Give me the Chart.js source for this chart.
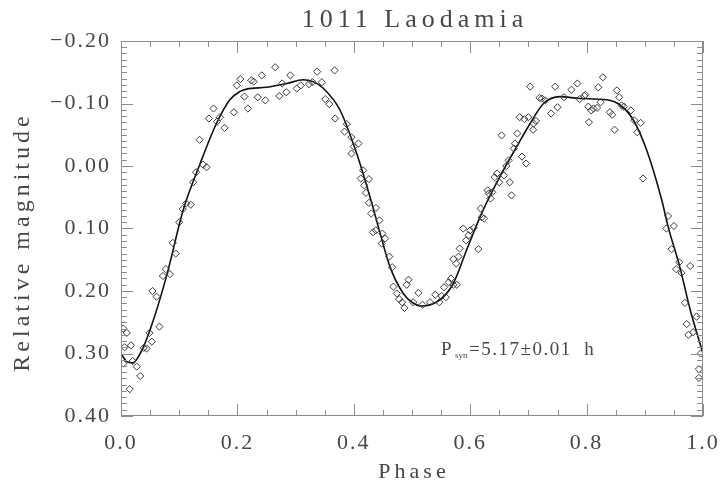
<!DOCTYPE html>
<html>
<head>
<meta charset="utf-8">
<title>1011 Laodamia</title>
<script src="https://cdn.jsdelivr.net/npm/chart.js@4.4.1/dist/chart.umd.min.js"></script>
<style>
    html, body { margin: 0; padding: 0; background: #fff; }
    #wrap { width: 722px; height: 482px; }
</style>
</head>
<body>
<div id="wrap"><canvas id="lc"></canvas></div>
<script>
// observed points (phase, relative magnitude)
const obsPhase = [
    0.004, 0.004, 0.010, 0.006, 0.017, 0.015, 0.020, 0.027, 0.033, 0.039, 0.044, 0.049, 0.053, 0.066, 0.054, 0.061,
    0.072, 0.077, 0.084, 0.089, 0.094, 0.100, 0.106, 0.112, 0.120, 0.124, 0.129, 0.135, 0.141, 0.147, 0.151, 0.159,
    0.165, 0.170, 0.178, 0.194, 0.199, 0.205, 0.212, 0.218, 0.224, 0.228, 0.235, 0.242, 0.248, 0.265, 0.272, 0.277,
    0.284, 0.291, 0.302, 0.309, 0.323, 0.329, 0.337, 0.345, 0.351, 0.358, 0.367, 0.368, 0.384, 0.388, 0.396, 0.400,
    0.396, 0.408, 0.416, 0.412, 0.418, 0.421, 0.426, 0.426, 0.430, 0.438, 0.438, 0.444, 0.433, 0.449, 0.454, 0.448,
    0.461, 0.466, 0.468, 0.474, 0.478, 0.483, 0.487, 0.491, 0.494, 0.502, 0.511, 0.518, 0.531, 0.540, 0.547, 0.551,
    0.555, 0.558, 0.563, 0.567, 0.571, 0.571, 0.577, 0.576, 0.580, 0.582, 0.588, 0.593, 0.597, 0.600, 0.606, 0.614,
    0.618, 0.620, 0.624, 0.630, 0.632, 0.635, 0.638, 0.642, 0.646, 0.650, 0.654, 0.658, 0.662, 0.666, 0.668, 0.671,
    0.675, 0.677, 0.681, 0.685, 0.689, 0.693, 0.696, 0.700, 0.703, 0.708, 0.709, 0.713, 0.719, 0.723, 0.729, 0.739,
    0.746, 0.750, 0.761, 0.774, 0.784, 0.788, 0.796, 0.798, 0.803, 0.804, 0.808, 0.812, 0.818, 0.820, 0.824, 0.828,
    0.840, 0.844, 0.848, 0.852, 0.856, 0.860, 0.864, 0.876, 0.882, 0.887, 0.893, 0.897, 0.937, 0.940, 0.950, 0.946,
    0.954, 0.959, 0.963, 0.978, 0.969, 0.972, 0.975, 0.983, 0.989, 0.996, 0.993, 0.993
];
const obsMag = [
    0.316, 0.260, 0.267, 0.290, 0.287, 0.357, 0.312, 0.321, 0.336, 0.291, 0.292, 0.267, 0.281, 0.257, 0.200, 0.209,
    0.176, 0.165, 0.173, 0.123, 0.140, 0.090, 0.069, 0.060, 0.062, 0.026, 0.010, -0.042, -0.002, 0.002, -0.076, -0.092,
    -0.071, -0.078, -0.061, -0.086, -0.129, -0.139, -0.111, -0.092, -0.137, -0.135, -0.110, -0.145, -0.105, -0.158, -0.112, -0.132,
    -0.118, -0.145, -0.124, -0.129, -0.131, -0.134, -0.151, -0.134, -0.107, -0.099, -0.153, -0.076, -0.055, -0.067, -0.046, -0.031,
    -0.020, -0.036, 0.007, 0.020, 0.031, 0.043, 0.021, 0.059, 0.076, 0.067, 0.103, 0.087, 0.106, 0.108, 0.116, 0.124,
    0.145, 0.162, 0.193, 0.204, 0.213, 0.218, 0.227, 0.190, 0.182, 0.218, 0.203, 0.222, 0.218, 0.206, 0.218, 0.208,
    0.194, 0.210, 0.186, 0.180, 0.149, 0.190, 0.190, 0.156, 0.145, 0.132, 0.100, 0.119, 0.111, 0.103, 0.099, 0.133,
    0.068, 0.082, 0.084, 0.039, 0.044, 0.052, 0.042, 0.018, 0.012, 0.026, -0.049, 0.015, 0.000, -0.009, 0.026, 0.047,
    -0.028, -0.036, -0.052, -0.078, -0.015, -0.075, -0.004, -0.078, -0.127, -0.058, -0.068, -0.072, -0.109, -0.108, -0.105, -0.084,
    -0.127, -0.094, -0.110, -0.122, -0.132, -0.107, -0.112, -0.114, -0.095, -0.070, -0.089, -0.092, -0.093, -0.126, -0.102, -0.142,
    -0.086, -0.082, -0.058, -0.121, -0.110, -0.097, -0.095, -0.089, -0.073, -0.054, -0.069, 0.020, 0.100, 0.080, 0.096, 0.133,
    0.165, 0.154, 0.171, 0.160, 0.219, 0.253, 0.270, 0.266, 0.241, 0.300, 0.325, 0.339
];

// fitted curve
const fitPhase = [0.000, 0.010, 0.020, 0.033, 0.050, 0.078, 0.107, 0.136, 0.164, 0.187, 0.204, 0.216, 0.250, 0.285,
    0.313, 0.330, 0.348, 0.376, 0.405, 0.428, 0.445, 0.462, 0.485, 0.500, 0.517, 0.548, 0.571, 0.594, 0.620, 0.651,
    0.680, 0.703, 0.726, 0.754, 0.789, 0.834, 0.857, 0.880, 0.903, 0.929, 0.940, 0.960, 0.978, 1.000];
const fitMag = [0.300, 0.313, 0.315, 0.300, 0.262, 0.177, 0.070, -0.004, -0.068, -0.106, -0.119, -0.123, -0.126, -0.132,
    -0.138, -0.135, -0.124, -0.090, -0.020, 0.050, 0.107, 0.161, 0.204, 0.218, 0.224, 0.214, 0.188, 0.134, 0.075, 0.017,
    -0.031, -0.068, -0.100, -0.111, -0.108, -0.106, -0.098, -0.074, -0.026, 0.054, 0.097, 0.161, 0.230, 0.300];

const xMin = 0, xMax = 1, xStep = 0.2;
const yMin = -0.2, yMax = 0.4, yStep = 0.1;

const textColor = '#474747';
const axisColor = '#8c8c8c';
const serif = '"Liberation Serif", "Times New Roman", serif';

// title, axis titles, annotation, boxed axes with inward ticks
const framePlugin = {
    id: 'frame',
    beforeDraw(chart) {
        chart.ctx.letterSpacing = '2px';
    },
    afterDraw(chart) {
        const ctx = chart.ctx;
        const a = chart.chartArea;
        const xs = chart.scales.x, ys = chart.scales.y;
        ctx.save();
        ctx.strokeStyle = axisColor;
        ctx.lineWidth = 1;
        ctx.strokeRect(a.left + 0.5, a.top + 0.5, a.right - a.left - 1, a.bottom - a.top - 1);

        ctx.beginPath();
        for (let i = 0; i <= 20; i++) {
            const px = Math.round(xs.getPixelForValue(i * 0.05)) + 0.5;
            const len = i % 4 === 0 ? 12 : 6;
            ctx.moveTo(px, a.bottom); ctx.lineTo(px, a.bottom - len);
            ctx.moveTo(px, a.top); ctx.lineTo(px, a.top + len);
        }
        for (let i = 0; i <= 60; i++) {
            const py = Math.round(ys.getPixelForValue(yMin + i * 0.01)) + 0.5;
            const len = i % 10 === 0 ? 12 : 6;
            ctx.moveTo(a.left, py); ctx.lineTo(a.left + len, py);
            ctx.moveTo(a.right, py); ctx.lineTo(a.right - len, py);
        }
        ctx.stroke();

        ctx.fillStyle = textColor;
        ctx.textAlign = 'center';
        ctx.textBaseline = 'alphabetic';

        ctx.font = '26px ' + serif;
        ctx.letterSpacing = '5px';
        ctx.fillText('1011 Laodamia', (a.left + a.right) / 2 + 3, 27);

        ctx.font = '22px ' + serif;
        ctx.letterSpacing = '4px';
        ctx.fillText('Phase', 414, 478);

        ctx.save();
        ctx.font = '24px ' + serif;
        ctx.translate(29, 242);
        ctx.rotate(-Math.PI / 2);
        ctx.fillText('Relative magnitude', 0, 0);
        ctx.restore();

        // P_syn annotation
        ctx.textAlign = 'left';
        ctx.letterSpacing = '1px';
        ctx.font = '19px ' + serif;
        ctx.fillText('P', 441, 355);
        ctx.font = '9px ' + serif;
        ctx.letterSpacing = '0px';
        ctx.fillText('syn', 455, 358);
        ctx.font = '19px ' + serif;
        ctx.letterSpacing = '1.5px';
        ctx.fillText('=5.17\u00b10.01  h', 469, 355);
        ctx.restore();
    }
};

const obsData = obsPhase.map((p, i) => ({ x: p, y: obsMag[i] }));
const fitData = fitPhase.map((p, i) => ({ x: p, y: fitMag[i] }));

new Chart(document.getElementById('lc'), {
    type: 'scatter',
    data: {
        datasets: [
            {
                label: 'fit',
                data: fitData,
                showLine: true,
                borderColor: '#111',
                borderWidth: 1.6,
                pointRadius: 0,
                cubicInterpolationMode: 'monotone',
                order: 2
            },
            {
                label: 'observations',
                data: obsData,
                pointStyle: 'rectRot',
                pointRadius: 3.6,
                borderColor: '#3a3a3a',
                borderWidth: 1,
                backgroundColor: 'rgba(0,0,0,0)',
                order: 1
            }
        ]
    },
    options: {
        responsive: true,
        maintainAspectRatio: false,
        animation: false,
        layout: { padding: { top: 41, right: 19, left: 0, bottom: 0 } },
        plugins: {
            legend: { display: false },
            tooltip: { enabled: false }
        },
        scales: {
            x: {
                type: 'linear',
                min: xMin,
                max: xMax,
                grid: { display: false, drawTicks: false },
                border: { display: false },
                ticks: {
                    stepSize: xStep,
                    autoSkip: false,
                    maxRotation: 0,
                    padding: 14,
                    color: textColor,
                    font: { family: serif, size: 22 },
                    callback: v => v.toFixed(1)
                },
                afterFit: s => {
                    s.height = 66;
                    s.paddingLeft = 0;
                    s.paddingRight = 0;
                }
            },
            y: {
                type: 'linear',
                reverse: true,
                min: yMin,
                max: yMax,
                grid: { display: false, drawTicks: false },
                border: { display: false },
                ticks: {
                    stepSize: yStep,
                    padding: 10,
                    color: textColor,
                    font: { family: serif, size: 22 },
                    callback: v => Math.abs(v) < 1e-9 ? '0.00' : (v < 0 ? '\u2212' + Math.abs(v).toFixed(2) : v.toFixed(2))
                },
                afterFit: s => {
                    s.width = 121;
                    s.paddingTop = 0;
                    s.paddingBottom = 0;
                }
            }
        }
    },
    plugins: [framePlugin]
});
</script>
</body>
</html>
